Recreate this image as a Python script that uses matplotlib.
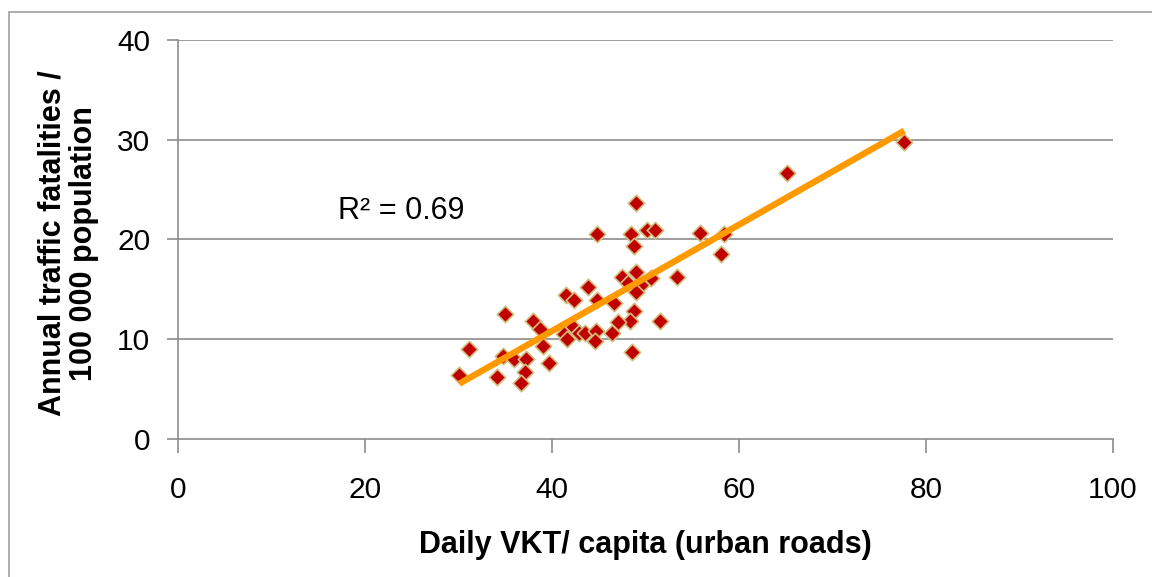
import matplotlib
matplotlib.use("Agg")
import matplotlib.pyplot as plt
import numpy as np
from matplotlib.patches import Rectangle

plt.rcParams['font.family'] = ['Liberation Sans', 'DejaVu Sans']

# Daily VKT per capita (urban roads)
vkt = [49.0, 44.8, 48.5, 50.2, 51.0, 55.8, 48.8, 58.4, 58.1, 47.5,
       49.0, 50.6, 53.4, 48.1, 49.5, 49.0, 43.9, 41.5, 42.4, 44.8,
       46.6, 48.8, 48.4, 47.1, 51.6, 35.0, 38.0, 38.7, 42.3, 41.3,
       41.6, 42.9, 43.5, 44.7, 46.4, 44.6, 39.1, 31.1, 48.6, 34.8,
       36.0, 37.2, 39.7, 37.1, 30.1, 34.1, 36.7, 65.2, 77.7]
# Annual traffic fatalities per 100 000 population
fatal = [23.7, 20.6, 20.6, 21.0, 21.0, 20.7, 19.3, 20.6, 18.5, 16.2,
         16.7, 16.1, 16.2, 15.6, 15.4, 14.7, 15.2, 14.4, 13.9, 13.9,
         13.6, 12.8, 11.8, 11.7, 11.8, 12.5, 11.8, 11.0, 11.2, 10.5,
         10.0, 10.6, 10.6, 10.8, 10.6, 9.8, 9.3, 9.0, 8.7, 8.3,
         8.0, 8.0, 7.6, 6.7, 6.4, 6.2, 5.6, 26.7, 29.8]

x_ticks = [0, 20, 40, 60, 80, 100]
y_ticks = [0, 10, 20, 30, 40]
r2_label = "R² = 0.69"

W, H = 1152, 577
fig = plt.figure(figsize=(W / 100, H / 100), dpi=100)
fig.patch.set_facecolor('white')

# outer frame
fig.add_artist(Rectangle((9 / W, -0.1), 1.2, 1 - 12 / H + 0.1, transform=fig.transFigure,
                         fill=False, edgecolor='#A0A0A0', linewidth=1.2))

ax = fig.add_axes([178 / W, 1 - 439 / H, (1112.7 - 178) / W, (439 - 40) / H])
ax.set_xlim(0, 100)
ax.set_ylim(0, 40)

grid_c = '#8C8C8C'
for yv in y_ticks[1:]:
    ax.axhline(yv, color=grid_c, linewidth=1.2, zorder=1)

ax.scatter(vkt, fatal, marker='D', s=70, facecolor='#C00000', edgecolor='#D2C080',
           linewidth=1.2, zorder=3)

xa = np.array(vkt)
ya = np.array(fatal)
m, b = np.polyfit(xa, ya, 1)
xl = np.array([xa.min(), xa.max()])
ax.plot(xl, m * xl + b, color='#FF9900', linewidth=4.6, solid_capstyle='butt', zorder=4)

ax.text(17.1, 22.9, r2_label, fontsize=22, va='center', ha='left', color='black')

for s in ['top', 'right']:
    ax.spines[s].set_visible(False)
for s in ['left', 'bottom']:
    ax.spines[s].set_color(grid_c)
    ax.spines[s].set_linewidth(1.2)

ax.set_xticks(x_ticks)
ax.set_yticks(y_ticks)
ax.tick_params(axis='both', colors=grid_c, labelcolor='black', labelsize=21.5,
               direction='out', width=1.2)
ax.tick_params(axis='y', length=8, pad=12)
ax.tick_params(axis='x', length=10, pad=17)

ax.set_xlabel("Daily VKT/ capita (urban roads)", fontsize=22, fontweight='bold', labelpad=18)
ax.set_ylabel("Annual traffic fatalities /\n100 000 population", fontsize=22,
              fontweight='bold', labelpad=12, linespacing=1.1)
ax.yaxis.set_label_coords(-0.084, 0.49)

fig.savefig("out.png", dpi=100)
